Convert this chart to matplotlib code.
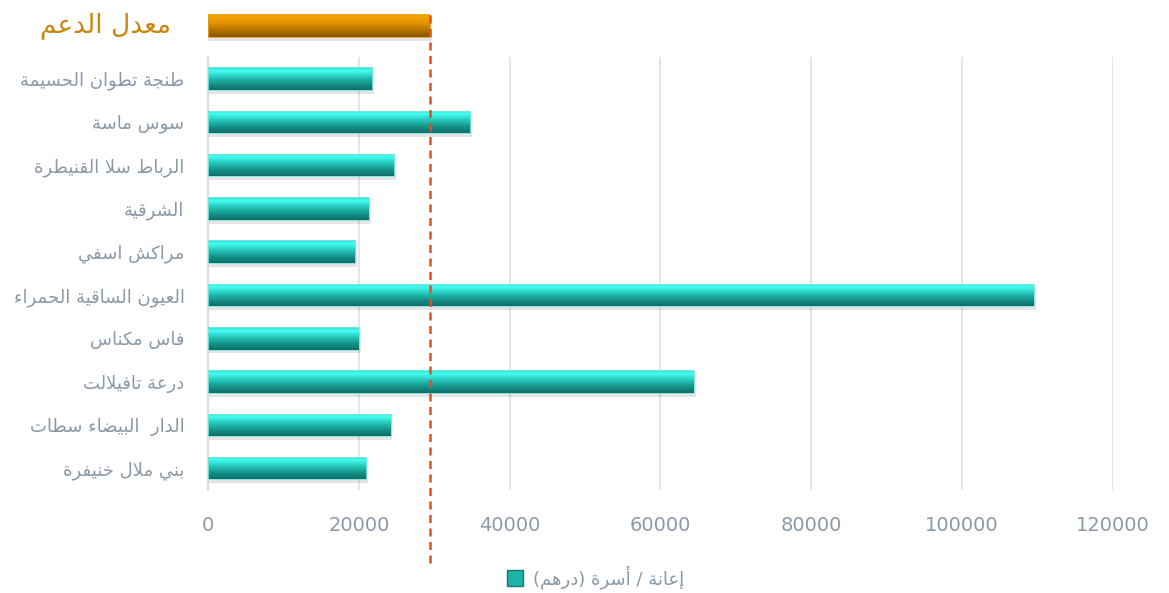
import matplotlib
matplotlib.use("Agg")
import matplotlib.pyplot as plt
import matplotlib.transforms as mtransforms
from matplotlib.colors import LinearSegmentedColormap
import numpy as np

# regions, top to bottom
regions = ["طنجة تطوان الحسيمة", "سوس ماسة", "الرباط سلا القنيطرة", "الشرقية",
           "مراكش اسفي", "العيون الساقية الحمراء", "فاس مكناس", "درعة تافيلالت",
           "الدار  البيضاء سطات", "بني ملال خنيفرة"]
aid = [21800, 34800, 24700, 21300, 19500, 109500, 20000, 64400, 24200, 21000]
avg_aid = 29400
avg_label = "معدل الدعم"
legend_label = "إعانة / أسرة (درهم)"
xticks = [0, 20000, 40000, 60000, 80000, 100000, 120000]

# --- petit "reshaper" arabe (formes de présentation B + ordre visuel) ---
F = {
    'ء': (0xFE80, None, None, None), 'آ': (0xFE81, 0xFE82, None, None),
    'أ': (0xFE83, 0xFE84, None, None), 'ؤ': (0xFE85, 0xFE86, None, None),
    'إ': (0xFE87, 0xFE88, None, None), 'ئ': (0xFE89, 0xFE8A, 0xFE8B, 0xFE8C),
    'ا': (0xFE8D, 0xFE8E, None, None), 'ب': (0xFE8F, 0xFE90, 0xFE91, 0xFE92),
    'ة': (0xFE93, 0xFE94, None, None), 'ت': (0xFE95, 0xFE96, 0xFE97, 0xFE98),
    'ث': (0xFE99, 0xFE9A, 0xFE9B, 0xFE9C), 'ج': (0xFE9D, 0xFE9E, 0xFE9F, 0xFEA0),
    'ح': (0xFEA1, 0xFEA2, 0xFEA3, 0xFEA4), 'خ': (0xFEA5, 0xFEA6, 0xFEA7, 0xFEA8),
    'د': (0xFEA9, 0xFEAA, None, None), 'ذ': (0xFEAB, 0xFEAC, None, None),
    'ر': (0xFEAD, 0xFEAE, None, None), 'ز': (0xFEAF, 0xFEB0, None, None),
    'س': (0xFEB1, 0xFEB2, 0xFEB3, 0xFEB4), 'ش': (0xFEB5, 0xFEB6, 0xFEB7, 0xFEB8),
    'ص': (0xFEB9, 0xFEBA, 0xFEBB, 0xFEBC), 'ض': (0xFEBD, 0xFEBE, 0xFEBF, 0xFEC0),
    'ط': (0xFEC1, 0xFEC2, 0xFEC3, 0xFEC4), 'ظ': (0xFEC5, 0xFEC6, 0xFEC7, 0xFEC8),
    'ع': (0xFEC9, 0xFECA, 0xFECB, 0xFECC), 'غ': (0xFECD, 0xFECE, 0xFECF, 0xFED0),
    'ف': (0xFED1, 0xFED2, 0xFED3, 0xFED4), 'ق': (0xFED5, 0xFED6, 0xFED7, 0xFED8),
    'ك': (0xFED9, 0xFEDA, 0xFEDB, 0xFEDC), 'ل': (0xFEDD, 0xFEDE, 0xFEDF, 0xFEE0),
    'م': (0xFEE1, 0xFEE2, 0xFEE3, 0xFEE4), 'ن': (0xFEE5, 0xFEE6, 0xFEE7, 0xFEE8),
    'ه': (0xFEE9, 0xFEEA, 0xFEEB, 0xFEEC), 'و': (0xFEED, 0xFEEE, None, None),
    'ى': (0xFEEF, 0xFEF0, None, None), 'ي': (0xFEF1, 0xFEF2, 0xFEF3, 0xFEF4),
}
LAMALEF = {'آ': (0xFEF5, 0xFEF6), 'أ': (0xFEF7, 0xFEF8),
           'إ': (0xFEF9, 0xFEFA), 'ا': (0xFEFB, 0xFEFC)}
MIRROR = {'(': ')', ')': '('}


def ar(text):
    out = []
    i, n = 0, len(text)
    while i < n:
        c = text[i]
        if c not in F:
            out.append(MIRROR.get(c, c))
            i += 1
            continue
        prev = text[i - 1] if i > 0 else None
        jp = prev in F and F[prev][2] is not None and F[c][1] is not None
        if c == 'ل' and i + 1 < n and text[i + 1] in LAMALEF:
            iso, fin = LAMALEF[text[i + 1]]
            out.append(chr(fin if jp else iso))
            i += 2
            continue
        nxt = text[i + 1] if i + 1 < n else None
        jn = F[c][2] is not None and nxt in F and F[nxt][1] is not None
        iso, fin, ini, med = F[c]
        g = med if (jp and jn) else fin if jp else ini if jn else iso
        out.append(chr(g))
        i += 1
    return ''.join(out[::-1])


plt.rcParams['font.family'] = ['DejaVu Sans']
label_col = "#8A99A8"

teal = LinearSegmentedColormap.from_list(
    "teal", [(0, "#2FD9CE"), (0.15, "#45FFF2"), (0.45, "#25C4B8"), (0.75, "#148F86"), (1, "#0F6E68")])
orange = LinearSegmentedColormap.from_list(
    "orange", [(0, "#F7A800"), (0.35, "#E89600"), (1, "#8A5600")])
grad = np.linspace(0, 1, 64).reshape(-1, 1)

fig = plt.figure(figsize=(11.69, 5.93), dpi=100)
ax = fig.add_axes([0.178, 0.174, 0.774, 0.730])

ypos = np.arange(len(regions))
h = 0.52


def gradient_bar(y, v, cmap, clip=True):
    # ombre douce sous la barre
    ax.add_patch(plt.Rectangle((0, y - h / 2 + 0.09), v + 250, h, facecolor="#000000",
                               alpha=0.10, edgecolor="none", zorder=2, clip_on=clip))
    rect = plt.Rectangle((0, y - h / 2), v, h, facecolor="none",
                         edgecolor="#7FE6DE" if cmap is teal else "#E0A030",
                         linewidth=0.6, zorder=4, clip_on=clip)
    ax.add_patch(rect)
    im = ax.imshow(grad, cmap=cmap, extent=(0, v, y + h / 2, y - h / 2),
                   aspect="auto", zorder=3, interpolation="bilinear")
    im.set_clip_on(clip)
    if clip:
        im.set_clip_path(rect)


for y, v in zip(ypos, aid):
    gradient_bar(y, v, teal)

# barre "moyenne" au-dessus du graphique
y_avg = -1.22
gradient_bar(y_avg, avg_aid, orange, clip=False)

ax.set_xlim(0, 120000)
ax.set_ylim(9.5, -0.5)
ax.set_aspect("auto")

# ligne pointillée de la moyenne
ax.plot([avg_aid, avg_aid], [-1.48, 11.3], color="#E4501C", lw=1.8,
        ls=(0, (3.2, 2.2)), clip_on=False, zorder=6)

ax.set_xticks(xticks)
ax.set_xticklabels([str(t) for t in xticks])
ax.set_yticks(ypos)
ax.set_yticklabels([ar(r) for r in regions])
ax.tick_params(axis="x", length=0, pad=19, labelsize=14, labelcolor=label_col)
ax.tick_params(axis="y", length=0, pad=17, labelsize=13, labelcolor=label_col)
ax.grid(axis="x", color="#DDE1E6", lw=1.2, zorder=0)
ax.set_axisbelow(True)
for s in ["top", "right", "bottom"]:
    ax.spines[s].set_visible(False)
ax.spines["left"].set_color("#D9DDE2")
ax.spines["left"].set_linewidth(1.5)

trans = mtransforms.blended_transform_factory(fig.transFigure, ax.transData)
ax.text(0.146, y_avg, ar(avg_label), transform=trans, ha="right", va="center",
        fontsize=19, color="#C8860E")

# légende
handle = plt.Line2D([], [], marker="s", ls="none", markersize=11,
                    markerfacecolor="#1FB3A8", markeredgecolor="#0F7A72")
fig.legend([handle], [ar(legend_label)], loc="center", bbox_to_anchor=(0.505, 0.026),
           frameon=False, fontsize=13, labelcolor=label_col, handletextpad=0.0)

fig.savefig("out.png", dpi=100)
